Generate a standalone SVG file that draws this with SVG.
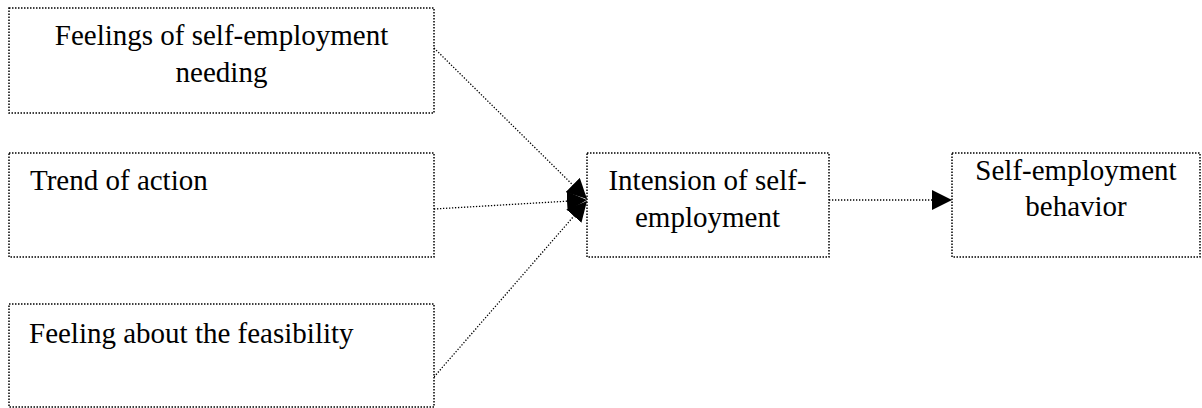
<svg xmlns="http://www.w3.org/2000/svg" width="1202" height="408" viewBox="0 0 1202 408">
<style>
.box{fill:#fff;stroke:#000;stroke-width:1.5;stroke-dasharray:1.5 1.5}
.con{fill:none;stroke:#000;stroke-width:1.3;stroke-dasharray:1.3 1.7}
text{font-family:'Liberation Serif','Times New Roman',serif;font-size:29px;fill:#000}
.c{text-anchor:middle}
</style>
<defs>
<marker id="arr" viewBox="0 0 20 20" refX="20" refY="10" markerWidth="20" markerHeight="20" markerUnits="userSpaceOnUse" orient="auto">
<path d="M0,0 L20,10 L0,20 z" fill="#000"/>
</marker>
</defs>
<g id="connectors">
<line class="con" x1="434" y1="48" x2="587" y2="199" marker-end="url(#arr)"/>
<line class="con" x1="434" y1="209" x2="587" y2="200" marker-end="url(#arr)"/>
<line class="con" x1="434" y1="377" x2="587" y2="201" marker-end="url(#arr)"/>
<line class="con" x1="829" y1="200" x2="952" y2="200" marker-end="url(#arr)"/>
</g>
<g id="n1" font-family="Liberation Serif, serif">
<rect class="box" x="9" y="8" width="425" height="105"/>
<text class="c" x="221.5" y="45">Feelings of self-employment</text>
<text class="c" x="221.5" y="82">needing</text>
</g>
<g id="n2" font-family="Liberation Serif, serif">
<rect class="box" x="9" y="153" width="425" height="104"/>
<text x="30" y="190">Trend of action</text>
</g>
<g id="n3" font-family="Liberation Serif, serif">
<rect class="box" x="9" y="304" width="425" height="103"/>
<text x="29" y="343">Feeling about the feasibility</text>
</g>
<g id="n4" font-family="Liberation Serif, serif">
<rect class="box" x="587" y="153" width="242" height="104"/>
<text class="c" x="707.5" y="190">Intension of self-</text>
<text class="c" x="707.5" y="227">employment</text>
</g>
<g id="n5" font-family="Liberation Serif, serif">
<rect class="box" x="952" y="153" width="248" height="104"/>
<text class="c" x="1076" y="180">Self-employment</text>
<text class="c" x="1076" y="216">behavior</text>
</g>
</svg>
